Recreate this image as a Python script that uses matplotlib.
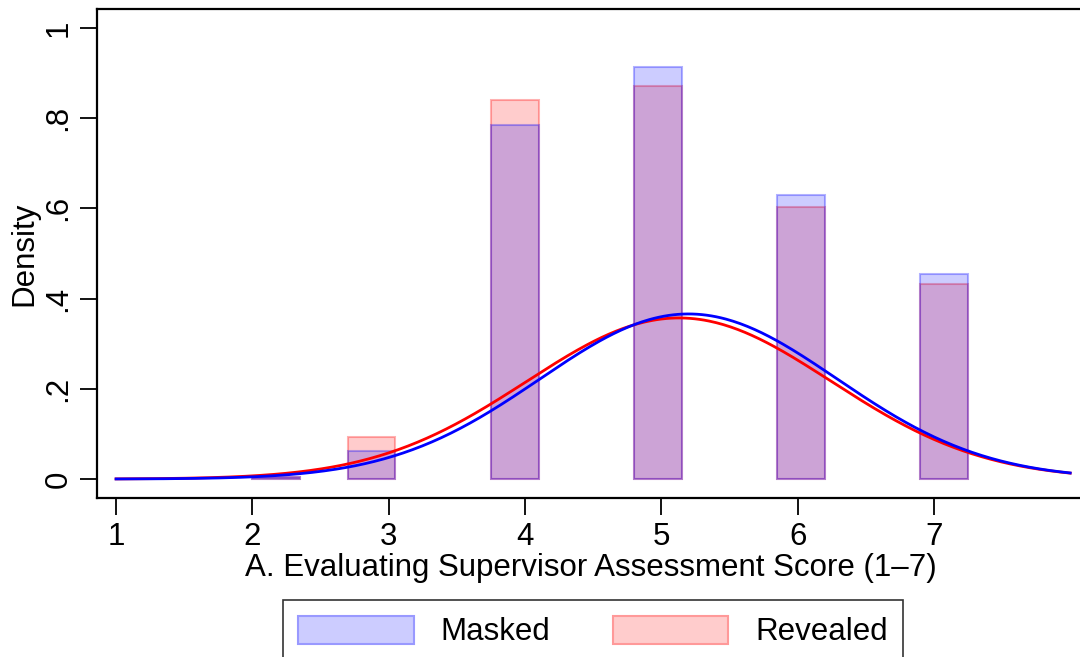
import numpy as np
import matplotlib
matplotlib.use("Agg")
import matplotlib.pyplot as plt
from matplotlib.patches import Patch

plt.rcParams['font.family'] = ['Liberation Sans', 'DejaVu Sans']

# histogram bins (left edges) and densities
bin_lefts = [2.0, 2.7, 3.75, 4.8, 5.85, 6.9]
bin_width = 0.35
masked = [0.005, 0.063, 0.785, 0.913, 0.630, 0.455]
revealed = [0.005, 0.094, 0.840, 0.871, 0.603, 0.432]

# normal density overlays (mean, sd)
masked_mean, masked_sd = 5.20, 1.09
revealed_mean, revealed_sd = 5.13, 1.117

xticks = [1, 2, 3, 4, 5, 6, 7]
yticks = [0, 0.2, 0.4, 0.6, 0.8, 1.0]
ytick_labels = ['0', '.2', '.4', '.6', '.8', '1']

FS = 22.5


def normal_pdf(x, mu, sd):
    return np.exp(-0.5 * ((x - mu) / sd) ** 2) / (sd * np.sqrt(2 * np.pi))


fig = plt.figure(figsize=(10.8, 6.57), dpi=100)
ax = fig.add_axes([0.0898, 0.242, 0.915, 0.7443])

# red first, blue on top -> purple overlap
ax.bar(bin_lefts, revealed, width=bin_width, align='edge',
       facecolor=(1, 0, 0, 0.2), edgecolor=(1, 0, 0, 0.3), linewidth=1.5)
ax.bar(bin_lefts, masked, width=bin_width, align='edge',
       facecolor=(0, 0, 1, 0.2), edgecolor=(0, 0, 1, 0.3), linewidth=1.5)

xs = np.linspace(1, 8, 400)
ax.plot(xs, normal_pdf(xs, revealed_mean, revealed_sd), color='red', lw=2.0)
ax.plot(xs, normal_pdf(xs, masked_mean, masked_sd), color='blue', lw=2.0)

ax.set_xlim(0.86, 8.11)
ax.set_ylim(-0.042, 1.042)
ax.set_xticks(xticks)
ax.set_xticklabels([str(t) for t in xticks])
ax.set_yticks(yticks)
ax.set_yticklabels(ytick_labels, rotation=90, va='center')

for s in ax.spines.values():
    s.set_linewidth(1.6)
ax.tick_params(axis='both', length=12, width=1.3, labelsize=FS, pad=5)

ax.set_xlabel('A. Evaluating Supervisor Assessment Score (1\u20137)', fontsize=FS, labelpad=1)
ax.set_ylabel('Density', fontsize=FS, labelpad=3)

handles = [
    Patch(facecolor=(0.8, 0.8, 1.0), edgecolor=(0.6, 0.6, 1.0), linewidth=1.5, label='Masked'),
    Patch(facecolor=(1.0, 0.8, 0.8), edgecolor=(1.0, 0.6, 0.6), linewidth=1.5, label='Revealed'),
]
leg = fig.legend(handles=handles, loc='upper center', bbox_to_anchor=(0.549, 1 - 600 / 657),
                 ncol=2, fontsize=FS, frameon=True, fancybox=False, edgecolor='black',
                 handlelength=3.7, handleheight=1.0, handletextpad=0.85,
                 columnspacing=2.0, borderpad=0.5, borderaxespad=0)
leg.get_frame().set_linewidth(1.2)

fig.savefig('out.png', dpi=100)
